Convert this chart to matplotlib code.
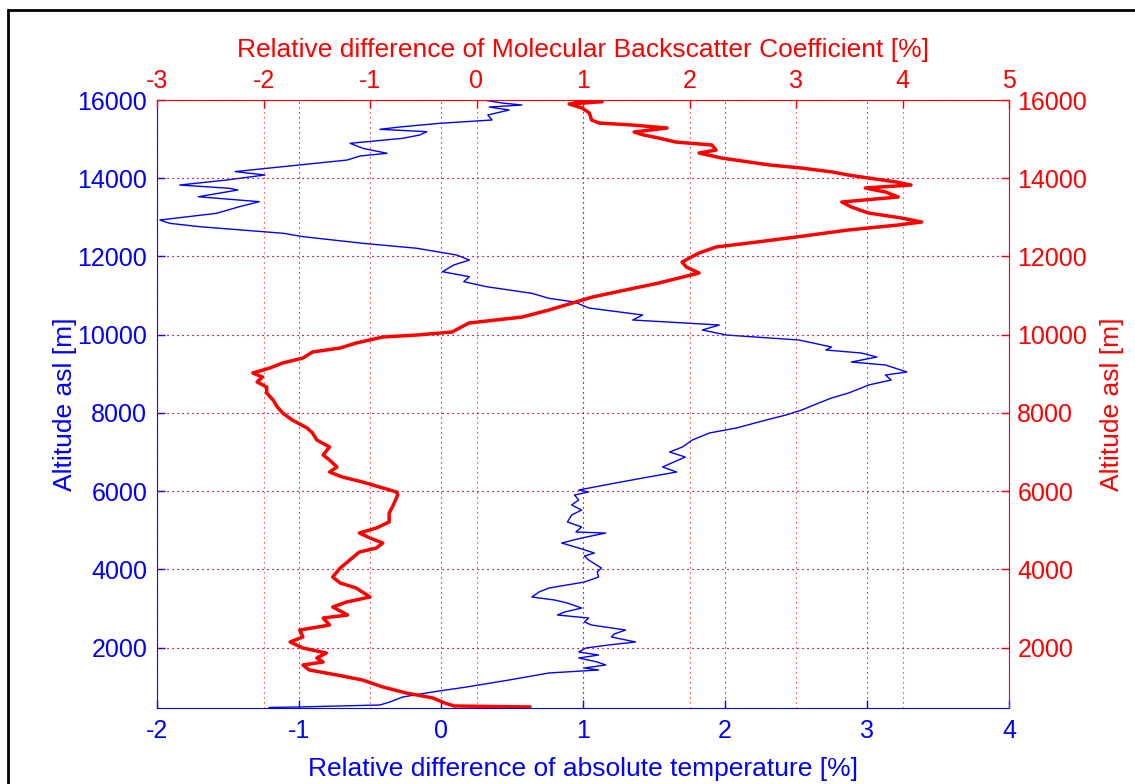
import matplotlib
matplotlib.use('Agg')
import matplotlib.pyplot as plt
from matplotlib.patches import Rectangle

plt.rcParams['font.family'] = ['Liberation Sans', 'DejaVu Sans']
plt.rcParams['axes.unicode_minus'] = False

# relative difference of absolute temperature [%] (bottom axis)
temp_alt = [16000, 15923, 15872, 15821, 15744, 15617, 15489, 15404, 15310, 15251,
            15190, 15105, 15021, 14893, 14765, 14638, 14569, 14466, 14339, 14254,
            14170, 14083, 13955, 13827, 13743, 13700, 13528, 13401, 13273, 13104,
            12933, 12848, 12762, 12593, 12506, 12337, 12210, 12123, 12038, 11910,
            11783, 11611, 11484, 11356, 11228, 11059, 10931, 10837, 10684, 10505,
            10377, 10249, 10121, 9993, 9866, 9687, 9610, 9533, 9431, 9303,
            9227, 9048, 8971, 8843, 8715, 8639, 8511, 8383, 8255, 8076,
            7949, 7821, 7616, 7489, 7310, 7131, 7003, 6875, 6620, 6492,
            6364, 6211, 6032, 5981, 5904, 5776, 5649, 5520, 5392, 5214,
            5086, 4958, 4932, 4805, 4677, 4549, 4421, 4345, 4242, 4038,
            3936, 3808, 3680, 3527, 3425, 3297, 3220, 3143, 3015, 2913,
            2837, 2760, 2658, 2581, 2453, 2351, 2275, 2147, 2070, 1993,
            1891, 1814, 1738, 1636, 1559, 1483, 1432, 1355, 1176, 997,
            869, 741, 614, 537, 486, 473]
temp_diff = [0.30, 0.43, 0.57, 0.34, 0.48, 0.33, 0.36, -0.01, -0.29, -0.43,
             -0.10, -0.15, -0.27, -0.64, -0.55, -0.38, -0.57, -0.66, -1.00, -1.23,
             -1.45, -1.24, -1.51, -1.84, -1.49, -1.43, -1.71, -1.28, -1.42, -1.58,
             -1.98, -1.91, -1.70, -1.11, -0.97, -0.55, -0.17, -0.03, 0.11, 0.20,
             0.09, 0.01, 0.20, 0.16, 0.32, 0.64, 0.76, 0.94, 1.04, 1.42,
             1.35, 1.96, 1.84, 2.01, 2.52, 2.75, 2.71, 2.96, 3.07, 2.89,
             3.13, 3.28, 3.13, 3.17, 3.01, 2.96, 2.87, 2.75, 2.66, 2.54,
             2.43, 2.29, 2.08, 1.89, 1.77, 1.70, 1.61, 1.72, 1.56, 1.66,
             1.46, 1.23, 0.97, 1.04, 0.94, 0.97, 0.92, 0.99, 0.92, 0.89,
             0.99, 0.95, 1.16, 0.99, 0.85, 0.97, 1.08, 1.01, 1.04, 1.13,
             1.10, 1.11, 1.01, 0.76, 0.69, 0.64, 0.80, 0.89, 0.99, 0.87,
             0.82, 1.04, 1.01, 1.06, 1.30, 1.22, 1.20, 1.37, 1.18, 1.02,
             0.97, 1.11, 0.97, 1.10, 1.16, 1.01, 1.11, 0.76, 0.48, 0.18,
             -0.06, -0.27, -0.36, -0.43, -1.00, -1.21]

# relative difference of molecular backscatter coefficient [%] (top axis)
beta_alt = [16000, 15957, 15898, 15796, 15668, 15489, 15412, 15361, 15284, 15182,
            15105, 15029, 14926, 14850, 14722, 14645, 14518, 14415, 14339, 14262,
            14160, 14083, 14006, 13904, 13827, 13751, 13648, 13521, 13393, 13265,
            13112, 12984, 12882, 12805, 12677, 12498, 12345, 12243, 12089, 11859,
            11731, 11578, 11450, 11322, 11144, 10965, 10811, 10632, 10453, 10300,
            10172, 10070, 9993, 9942, 9789, 9661, 9559, 9405, 9278, 9150,
            9022, 8920, 8792, 8664, 8511, 8332, 8153, 8000, 7821, 7616,
            7489, 7310, 7131, 6926, 6798, 6620, 6492, 6364, 6236, 6108,
            5981, 5904, 5776, 5597, 5444, 5214, 5060, 4932, 4805, 4677,
            4549, 4447, 4242, 4038, 3808, 3655, 3527, 3297, 3169, 3041,
            2837, 2760, 2581, 2453, 2275, 2147, 1993, 1865, 1738, 1636,
            1559, 1432, 1303, 1175, 997, 844, 716, 588, 512, 486]
beta_diff = [0.92, 1.18, 0.87, 0.99, 1.06, 1.08, 1.15, 1.46, 1.79, 1.48,
             1.57, 1.71, 1.87, 2.21, 2.25, 2.09, 2.30, 2.56, 2.75, 3.05,
             3.34, 3.49, 3.68, 3.94, 4.08, 3.65, 3.84, 3.96, 3.43, 3.52,
             3.68, 3.99, 4.18, 3.96, 3.49, 3.00, 2.56, 2.25, 2.09, 1.93,
             1.97, 2.09, 1.90, 1.71, 1.40, 1.09, 0.90, 0.68, 0.43, -0.07,
             -0.16, -0.23, -0.56, -0.88, -1.13, -1.28, -1.54, -1.63, -1.82, -1.94,
             -2.10, -2.01, -2.06, -1.97, -1.97, -1.91, -1.87, -1.82, -1.73, -1.59,
             -1.54, -1.50, -1.38, -1.44, -1.38, -1.31, -1.38, -1.26, -1.07, -0.91,
             -0.75, -0.74, -0.76, -0.79, -0.82, -0.82, -0.94, -1.10, -1.00, -0.88,
             -0.94, -1.10, -1.19, -1.28, -1.35, -1.28, -1.13, -1.00, -1.22, -1.35,
             -1.21, -1.44, -1.38, -1.66, -1.63, -1.75, -1.63, -1.41, -1.50, -1.44,
             -1.63, -1.57, -1.31, -1.07, -0.88, -0.66, -0.41, -0.30, -0.21, 0.50]

bottom_ticks = [-2, -1, 0, 1, 2, 3, 4]
top_ticks = [-3, -2, -1, 0, 1, 2, 3, 4, 5]
alt_ticks = [2000, 4000, 6000, 8000, 10000, 12000, 14000, 16000]

W, H = 1135, 784
fig = plt.figure(figsize=(W / 100, H / 100), dpi=100)
rect = [157 / W, 1 - 708 / H, (1009 - 157) / W, (708 - 100) / H]

ax = fig.add_axes(rect)
ax2 = fig.add_axes(rect, sharey=ax)
ax2.patch.set_visible(False)

dots = (0, (1, 3.5))
fs = 18
lfs = 19

# bottom / left axes (blue)
ax.plot(temp_diff, temp_alt, color='blue', lw=1.0)
ax.set_xlim(-2, 4)
ax.set_ylim(460, 16000)
ax.set_xticks(bottom_ticks)
ax.set_yticks(alt_ticks)
ax.grid(True, color='blue', linestyle=dots, lw=0.8)
ax.tick_params(direction='in', length=6, width=1, colors='blue', labelsize=fs,
               top=False, right=False)
ax.tick_params(axis='x', pad=8)
ax.tick_params(axis='y', pad=7)
for s in ['top', 'right']:
    ax.spines[s].set_visible(False)
for s in ['bottom', 'left']:
    ax.spines[s].set_color('blue')
ax.set_xlabel('Relative difference of absolute temperature [%]', color='blue',
              fontsize=lfs, labelpad=10)
ax.set_ylabel('Altitude asl [m]', color='blue', fontsize=lfs)
ax.yaxis.set_label_coords(-0.094, 0.5)

# top / right axes (red)
ax2.plot(beta_diff, beta_alt, color='red', lw=2.5)
ax2.set_xlim(-3, 5)
ax2.set_xticks(top_ticks)
ax2.xaxis.tick_top()
ax2.xaxis.set_label_position('top')
ax2.yaxis.tick_right()
ax2.yaxis.set_label_position('right')
ax2.grid(True, color='red', linestyle=dots, lw=0.8)
ax2.tick_params(direction='in', length=6, width=1, colors='red', labelsize=fs,
                bottom=False, left=False)
ax2.tick_params(axis='x', pad=5)
ax2.tick_params(axis='y', pad=6)
for s in ['bottom', 'left']:
    ax2.spines[s].set_visible(False)
for s in ['top', 'right']:
    ax2.spines[s].set_color('red')
ax2.set_xlabel('Relative difference of Molecular Backscatter Coefficient [%]',
               color='red', fontsize=lfs, labelpad=9)
ax2.set_ylabel('Altitude asl [m]', color='red', fontsize=lfs)
ax2.yaxis.set_label_coords(1.107, 0.5)

# figure frame
fig.add_artist(Rectangle((8 / W, -0.5), 2, 1.5 - 10 / H, transform=fig.transFigure,
                         fill=False, ec='black', lw=2))

fig.savefig('out.png', dpi=100)
